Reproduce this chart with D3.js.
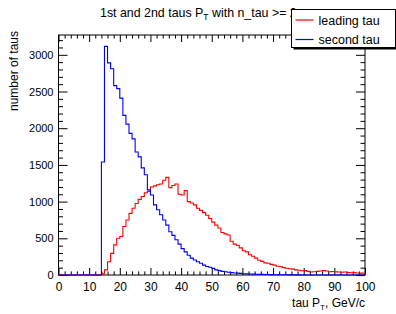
<!DOCTYPE html>
<html>
<head>
<meta charset="utf-8">
<script src="https://cdn.jsdelivr.net/npm/d3@7"></script>
<style>
  body { margin: 0; background: #fff; }
  text { font-family: "Liberation Sans", Arial, Helvetica, sans-serif; fill: #000; }
</style>
</head>
<body>
<div id="chart"></div>
<script>
'use strict';

// 1 GeV bins, 0..100
const binEdges = d3.range(0, 101);

// leading tau counts per bin
const leadingTau = [
    0, 0, 0, 0, 0, 0, 0, 0, 0, 0,
    0, 0, 0, 0, 15, 70, 180, 295, 410, 500,
    525, 660, 750, 840, 910, 975, 1030, 1070, 1120, 1140,
    1200, 1215, 1230, 1240, 1290, 1330, 1190, 1220, 1240, 1100,
    1090, 1150, 1000, 980, 955, 910, 880, 850, 815, 770,
    720, 680, 640, 580, 560, 545, 460, 420, 405, 370,
    330, 315, 275, 255, 230, 200, 185, 165, 160, 145,
    135, 120, 115, 100, 92, 85, 80, 70, 65, 58,
    60, 50, 40, 45, 50, 55, 60, 55, 45, 48,
    42, 40, 38, 40, 35, 30, 32, 28, 25, 25
];

// second tau counts per bin
const secondTau = [
    0, 0, 0, 0, 0, 0, 0, 0, 0, 0,
    0, 0, 0, 0, 1540, 3115, 2890, 2810, 2580, 2540,
    2410, 2175, 2055, 1930, 1855, 1675, 1610, 1460, 1365, 1160,
    1090, 955, 890, 820, 750, 680, 590, 540, 480, 420,
    360, 315, 270, 230, 205, 180, 160, 135, 115, 105,
    90, 70, 60, 50, 45, 38, 32, 28, 25, 22,
    18, 15, 14, 12, 10, 9, 8, 7, 6, 5,
    4, 4, 3, 3, 3, 2, 2, 2, 2, 1,
    1, 1, 1, 0, 1, 0, 0, 1, 0, 0,
    0, 0, 0, 0, 0, 0, 0, 0, 0, 0
];

const xTicks = [0, 10, 20, 30, 40, 50, 60, 70, 80, 90, 100];
const yTicks = [0, 500, 1000, 1500, 2000, 2500, 3000];
const legendLabels = ['leading tau', 'second tau'];
const colors = ['#ff0000', '#0000ff'];

const W = 396, H = 314;
const margin = {top: 35, right: 31, bottom: 39, left: 58.5};
const width = W - margin.left - margin.right,
    height = H - margin.top - margin.bottom;

const svg = d3.select('#chart').append('svg')
    .attr('width', W)
    .attr('height', H);

const x = d3.scaleLinear().domain([0, 100]).range([0, width]);
const y = d3.scaleLinear().domain([0, 3270]).range([height, 0]);

const g = svg.append('g')
    .attr('transform', 'translate(' + margin.left + ',' + margin.top + ')');

// frame
g.append('rect')
    .attr('width', width)
    .attr('height', height)
    .attr('fill', 'none')
    .attr('stroke', '#000')
    .attr('stroke-width', 1);

const fontSize = 12;

// x axis (bottom, ticks inside) + mirror on top
function xAxis(sel, major, minor) {
    sel.call(d3.axisBottom(x).tickValues(d3.range(0, 101, 2))
        .tickSize(0).tickFormat(''));
    sel.selectAll('.tick line')
        .attr('y2', d => d % 10 === 0 ? major : minor)
        .attr('stroke', '#000');
    sel.select('.domain').remove();
}
g.append('g').attr('transform', 'translate(0,' + height + ')').call(xAxis, -7, -3.6);
g.append('g').call(xAxis, 7, 3.6);

const xLab = g.append('g').attr('transform', 'translate(0,' + height + ')')
    .call(d3.axisBottom(x).tickValues(xTicks).tickSize(0).tickPadding(7));
xLab.select('.domain').remove();
xLab.selectAll('text').style('font-size', fontSize + 'px').attr('fill', '#000')
    .attr('dy', '0.71em');

// y axis (left, ticks inside) + mirror on right
function yAxis(sel, major, minor) {
    sel.call(d3.axisLeft(y).tickValues(d3.range(0, 3201, 100))
        .tickSize(0).tickFormat(''));
    sel.selectAll('.tick line')
        .attr('x2', d => d % 500 === 0 ? major : minor)
        .attr('stroke', '#000');
    sel.select('.domain').remove();
}
g.append('g').call(yAxis, 9, 4.5);
g.append('g').attr('transform', 'translate(' + width + ',0)').call(yAxis, -9, -4.5);

const yLab = g.append('g')
    .call(d3.axisLeft(y).tickValues(yTicks).tickSize(0).tickPadding(5)
        .tickFormat(d3.format('d')));
yLab.select('.domain').remove();
yLab.selectAll('text').style('font-size', '11px').attr('fill', '#000');

// histograms
const series = [leadingTau, secondTau];
const line = d3.line()
    .x(d => x(d[0]))
    .y(d => y(d[1]))
    .curve(d3.curveStepAfter);

series.forEach((vals, k) => {
    const pts = [[0, 0]];
    vals.forEach((v, i) => pts.push([binEdges[i], v]));
    pts.push([binEdges[100], vals[99]]);
    pts.push([binEdges[100], 0]);
    g.append('path')
        .datum(pts)
        .attr('d', line)
        .attr('fill', 'none')
        .attr('stroke', colors[k])
        .attr('stroke-width', 1.1);
});

// axis titles
const xt = svg.append('text')
    .attr('x', margin.left + width)
    .attr('y', 307)
    .attr('text-anchor', 'end')
    .style('font-size', fontSize + 'px');
xt.append('tspan').text('tau P');
xt.append('tspan').attr('dy', 3).style('font-size', '8px').text('T');
xt.append('tspan').attr('dy', -3).text(', GeV/c');

svg.append('text')
    .attr('transform', 'translate(18,' + (margin.top - 4) + ') rotate(-90)')
    .attr('text-anchor', 'end')
    .style('font-size', fontSize + 'px')
    .text('number of taus');

// title
const tt = svg.append('text')
    .attr('x', 100)
    .attr('y', 17)
    .style('font-size', '12.4px');
tt.append('tspan').text('1st and 2nd taus P');
tt.append('tspan').attr('dy', 3).style('font-size', '8.5px').text('T');
tt.append('tspan').attr('dy', -3).text(' with n_tau >= 2');

// legend
const lg = svg.append('g').attr('transform', 'translate(291.5,9.5)');
lg.append('rect').attr('x', 2).attr('y', 2).attr('width', 104).attr('height', 38).attr('fill', '#000');
lg.append('rect').attr('width', 104).attr('height', 38)
    .attr('fill', '#fff').attr('stroke', '#000').attr('stroke-width', 1);
legendLabels.forEach((lab, k) => {
    const yy = 10.5 + k * 19.5;
    lg.append('line').attr('x1', 4).attr('x2', 22).attr('y1', yy).attr('y2', yy)
        .attr('stroke', colors[k]).attr('stroke-width', 1.2);
    lg.append('text').attr('x', 27).attr('y', yy + 4.5)
        .style('font-size', '12.5px').text(lab);
});
</script>
</body>
</html>
